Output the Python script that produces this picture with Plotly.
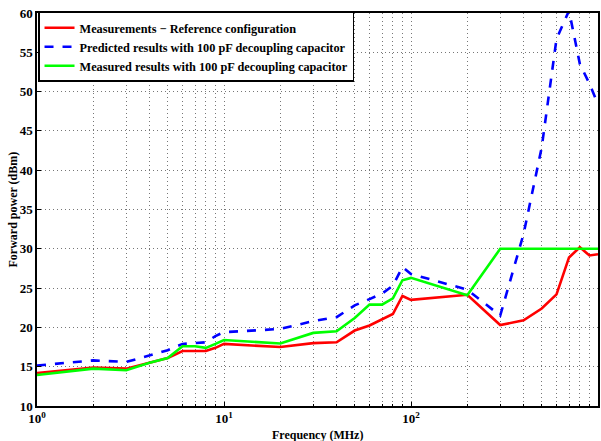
import plotly.graph_objects as go

freq = [1, 2, 3, 4, 5, 6, 7, 8, 9, 10, 20, 30, 40, 50, 60, 70, 80, 90, 100,
        200, 300, 400, 500, 600, 700, 800, 900, 1000]

ref_meas = [14.2, 14.9, 14.75, 15.5, 16.1, 17.0, 17.0, 17.0, 17.4, 17.9, 17.5,
            18.0, 18.1, 19.6, 20.25, 21.0, 21.7, 24.0, 23.5,
            24.15, 20.3, 20.9, 22.4, 24.2, 28.9, 30.2, 29.15, 29.3]

pred_100pf = [15.15, 15.8, 15.6, 16.4, 17.1, 17.9, 18.0, 18.1, 18.9, 19.4, 19.8,
              20.8, 21.3, 22.8, 23.6, 24.3, 25.3, 27.7, 26.8,
              24.8, 21.5, 31.9, 42.9, 56.7, 60.3, 53.5, 51.0, 48.4]

meas_100pf = [13.95, 14.75, 14.55, 15.5, 16.1, 17.6, 17.6, 17.4, 17.9, 18.4, 17.95,
              19.3, 19.5, 21.2, 22.9, 22.9, 23.7, 26.0, 26.3,
              24.1, 30.0, 30.0, 30.0, 30.0, 30.0, 30.0, 30.0, 30.0]

names = ["Measurements \u2212 Reference configuration",
         "Predicted results with 100 pF decoupling capacitor",
         "Measured results with 100 pF decoupling capacitor"]

y_ticks = [10, 15, 20, 25, 30, 35, 40, 45, 50, 55, 60]
x_ticks = [1, 10, 100, 1000]
x_ticklabels = ["<b>10<sup>0</sup></b>", "<b>10<sup>1</sup></b>",
                "<b>10<sup>2</sup></b>", "<b>10<sup>3</sup></b>"]
x_minor = [d * m for d in [1, 10, 100] for m in range(2, 10)]

FONT = "Liberation Serif"

fig = go.Figure()
fig.add_trace(go.Scatter(x=freq, y=ref_meas, mode="lines", name="<b>" + names[0] + "</b>",
                         line=dict(color="#ff0000", width=2.6)))
fig.add_trace(go.Scatter(x=freq, y=pred_100pf, mode="lines", name="<b>" + names[1] + "</b>",
                         line=dict(color="#0000ff", width=2.6, dash="dash")))
fig.add_trace(go.Scatter(x=freq, y=meas_100pf, mode="lines", name="<b>" + names[2] + "</b>",
                         line=dict(color="#00ff00", width=2.6)))

grid = dict(showgrid=True, gridcolor="#777777", griddash="1px,3px", gridwidth=1)

fig.update_layout(
    width=601, height=441,
    margin=dict(l=37, r=3, t=13, b=35),
    paper_bgcolor="white", plot_bgcolor="white",
    font=dict(family=FONT, size=12, color="black"),
    showlegend=True,
    legend=dict(x=0.002, y=1.003, xanchor="left", yanchor="top",
                bgcolor="white", bordercolor="black", borderwidth=1.4,
                font=dict(family=FONT, size=12.3, color="black"),
                tracegroupgap=0, itemwidth=30),
    xaxis=dict(type="log", range=[0, 3], automargin=False,
               tickvals=x_ticks, ticktext=x_ticklabels,
               ticks="inside", ticklen=4, tickcolor="black",
               minor=dict(tickvals=x_minor, ticks="inside", ticklen=2,
                          tickcolor="black", **grid),
               showline=True, linecolor="black", linewidth=1.5, mirror=True,
               zeroline=False, **grid,
               tickfont=dict(family=FONT, size=13, color="black")),
    yaxis=dict(range=[10, 60], tickvals=y_ticks, automargin=False,
               ticktext=["<b>%d</b>" % v for v in y_ticks],
               ticks="inside", ticklen=4, tickcolor="black",
               showline=True, linecolor="black", linewidth=1.5, mirror=True,
               zeroline=False, **grid,
               tickfont=dict(family=FONT, size=13, color="black")),
    annotations=[
        dict(text="<b>Frequency (MHz)</b>", x=0.5, y=0, xref="paper", yref="paper",
             yanchor="top", yshift=-20, showarrow=False,
             font=dict(family=FONT, size=12, color="black")),
        dict(text="<b>Forward power (dBm)</b>", textangle=-90, showarrow=False,
             xref="paper", yref="paper", x=0, y=0.5, xanchor="center", yanchor="middle",
             xshift=-25, font=dict(family=FONT, size=12, color="black")),
    ],
)

fig.write_html("out.html", config={"displayModeBar": False},
               post_script="document.body.style.margin='0';document.body.style.overflow='hidden';")
